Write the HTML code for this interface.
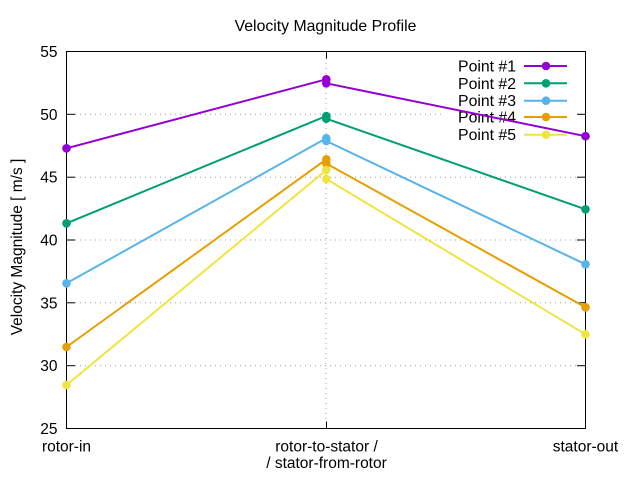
<!DOCTYPE html>
<html>
<head>
<meta charset="utf-8">
<style>
  html, body { margin: 0; padding: 0; background: #ffffff; }
  svg { display: block; }
  text { font-family: "Liberation Sans", Arial, sans-serif; fill: #000; }
</style>
</head>
<body>
<svg width="640" height="480" viewBox="0 0 640 480" xmlns="http://www.w3.org/2000/svg">
  <rect x="0" y="0" width="640" height="480" fill="#ffffff"/>

  <!-- grid -->
  <g stroke="#a0a0a0" stroke-width="1" stroke-dasharray="1,4" fill="none">
    <line x1="75" y1="114.3" x2="444" y2="114.3"/>
    <line x1="75" y1="177.2" x2="577" y2="177.2"/>
    <line x1="75" y1="240" x2="577" y2="240"/>
    <line x1="75" y1="302.8" x2="577" y2="302.8"/>
    <line x1="75" y1="365.7" x2="577" y2="365.7"/>
    <line x1="326" y1="58" x2="326" y2="422"/>
  </g>

  <!-- border -->
  <rect x="66.5" y="51.5" width="519" height="377" fill="none" stroke="#000" stroke-width="1"/>

  <!-- ticks -->
  <g stroke="#000" stroke-width="1">
    <line x1="66.5" y1="114.3" x2="75" y2="114.3"/>
    <line x1="66.5" y1="177.2" x2="75" y2="177.2"/>
    <line x1="66.5" y1="240" x2="75" y2="240"/>
    <line x1="66.5" y1="302.8" x2="75" y2="302.8"/>
    <line x1="66.5" y1="365.7" x2="75" y2="365.7"/>
    <line x1="577" y1="114.3" x2="585.5" y2="114.3"/>
    <line x1="577" y1="177.2" x2="585.5" y2="177.2"/>
    <line x1="577" y1="240" x2="585.5" y2="240"/>
    <line x1="577" y1="302.8" x2="585.5" y2="302.8"/>
    <line x1="577" y1="365.7" x2="585.5" y2="365.7"/>
    <line x1="326.5" y1="428.5" x2="326.5" y2="421.5"/>
    <line x1="326.5" y1="51.5" x2="326.5" y2="58.5"/>
  </g>

  <!-- y tick labels -->
  <g font-size="15.5" text-anchor="end">
    <text x="57.5" y="57">55</text>
    <text x="57.5" y="119.8">50</text>
    <text x="57.5" y="182.7">45</text>
    <text x="57.5" y="245.5">40</text>
    <text x="57.5" y="308.3">35</text>
    <text x="57.5" y="371.2">30</text>
    <text x="57.5" y="434">25</text>
  </g>

  <!-- x tick labels -->
  <g font-size="15.5" text-anchor="middle">
    <text x="66.5" y="451.5">rotor-in</text>
    <text x="326.5" y="451.5">rotor-to-stator /</text>
    <text x="326.5" y="468">/ stator-from-rotor</text>
    <text x="585.5" y="451.5">stator-out</text>
  </g>

  <!-- title -->
  <text x="325.5" y="31" font-size="15.8" text-anchor="middle">Velocity Magnitude Profile</text>

  <!-- y label -->
  <text transform="translate(22,247) rotate(-90)" font-size="15.5" text-anchor="middle">Velocity Magnitude [ m/s ]</text>

  <!-- legend -->
  <g font-size="15.8" text-anchor="end">
    <text x="516" y="71.5">Point #1</text>
    <text x="516" y="88.8">Point #2</text>
    <text x="516" y="106.2">Point #3</text>
    <text x="516" y="122.5">Point #4</text>
    <text x="516" y="140.2">Point #5</text>
  </g>
  <g stroke-width="2">
    <line x1="524" y1="66" x2="567" y2="66" stroke="#9400d3"/>
    <line x1="524" y1="83.3" x2="567" y2="83.3" stroke="#009e73"/>
    <line x1="524" y1="100.7" x2="567" y2="100.7" stroke="#56b4e9"/>
    <line x1="524" y1="117" x2="567" y2="117" stroke="#e69f00"/>
    <line x1="524" y1="134.7" x2="567" y2="134.7" stroke="#f0e442"/>
  </g>
  <circle cx="546" cy="66" r="4.3" fill="#9400d3"/>
  <circle cx="546" cy="83.3" r="4.3" fill="#009e73"/>
  <circle cx="546" cy="100.7" r="4.3" fill="#56b4e9"/>
  <circle cx="546" cy="117" r="4.3" fill="#e69f00"/>
  <circle cx="546" cy="134.7" r="4.3" fill="#f0e442"/>

  <!-- series -->
  <g fill="none" stroke-width="2" stroke-linejoin="round">
    <polyline stroke="#9400d3" points="66.5,148.3 326.3,79.3 326.3,83.3 585.5,136.2"/>
    <polyline stroke="#009e73" points="66.5,223.3 326.3,116 326.3,118.7 585.5,209.3"/>
    <polyline stroke="#56b4e9" points="66.5,283.3 326.3,138.3 326.3,141 585.5,264.3"/>
    <polyline stroke="#e69f00" points="66.5,347 326.3,159.3 326.3,163.5 585.5,307.3"/>
    <polyline stroke="#f0e442" points="66.5,385 326.3,170 326.3,179 585.5,334.3"/>
  </g>
  <g>
    <g fill="#9400d3">
      <circle cx="66.5" cy="148.3" r="4.3"/><circle cx="326.3" cy="79.3" r="4.3"/>
      <circle cx="326.3" cy="83.3" r="4.3"/><circle cx="585.5" cy="136.2" r="4.3"/>
    </g>
    <g fill="#009e73">
      <circle cx="66.5" cy="223.3" r="4.3"/><circle cx="326.3" cy="116" r="4.3"/>
      <circle cx="326.3" cy="118.7" r="4.3"/><circle cx="585.5" cy="209.3" r="4.3"/>
    </g>
    <g fill="#56b4e9">
      <circle cx="66.5" cy="283.3" r="4.3"/><circle cx="326.3" cy="138.3" r="4.3"/>
      <circle cx="326.3" cy="141" r="4.3"/><circle cx="585.5" cy="264.3" r="4.3"/>
    </g>
    <g fill="#e69f00">
      <circle cx="66.5" cy="347" r="4.3"/><circle cx="326.3" cy="159.3" r="4.3"/>
      <circle cx="326.3" cy="163.5" r="4.3"/><circle cx="585.5" cy="307.3" r="4.3"/>
    </g>
    <g fill="#f0e442">
      <circle cx="66.5" cy="385" r="4.3"/><circle cx="326.3" cy="170" r="4.3"/>
      <circle cx="326.3" cy="179" r="4.3"/><circle cx="585.5" cy="334.3" r="4.3"/>
    </g>
  </g>
</svg>
</body>
</html>
